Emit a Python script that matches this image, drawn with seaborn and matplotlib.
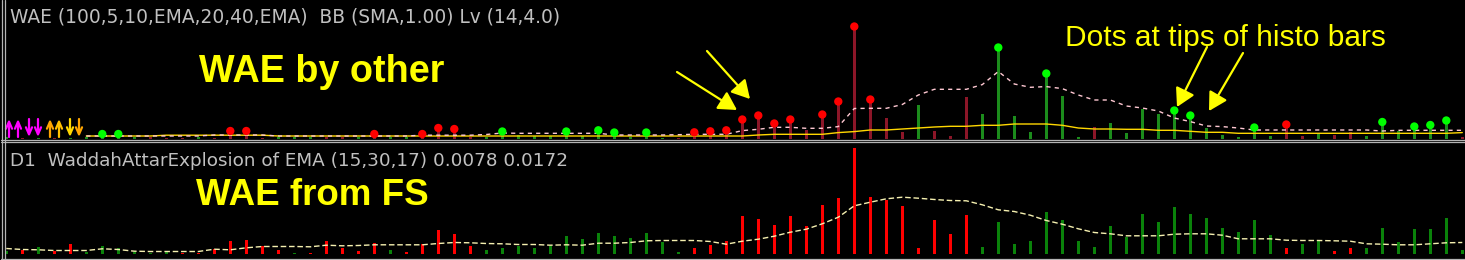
import numpy as np
import pandas as pd
import matplotlib
matplotlib.use("Agg")
import matplotlib.pyplot as plt
from matplotlib.lines import Line2D
import seaborn as sns

# ---------------- data ----------------
bar_index = list(range(-1, 91))

# upper panel: "WAE by other" histogram (height units), trend and dots
top_hist = [1.5, 0.8, 0.8, 0.8, 0.8, 1.5, 4.5, 4.5, 1.5, 1.5,
            1.0, 1.0, 1.5, 1.0, 7.5, 7.5, 1.0, 1.5, 1.5, 1.5,
            1.5, 1.5, 1.5, 4.5, 1.5, 1.5, 4.5, 10.5, 9.5, 1.5,
            1.5, 7.0, 3.5, 2.5, 2.5, 7.0, 2.5, 8.2, 6.0, 1.5,
            6.0, 1.0, 0.8, 6.2, 7.2, 8.2, 19, 23, 15, 19,
            9, 24, 37, 112, 39, 21, 6.5, 33.5, 8, 3,
            41.5, 24.5, 91, 22.5, 6.5, 65, 42.5, 2, 11.5, 15.5,
            5.5, 29.5, 25, 28, 23, 10.5, 3.5, 2, 11, 3,
            14, 3, 5, 4, 6.5, 3, 16.5, 7.5, 12, 13.5,
            18, 2]
top_trend = list("grgrgggggr" "rrgrrrrggg" "rrgrggrrrr" "gggggggggg"
                 "ggrrrrrrrr" "rrrrrrrgrr" "rgggggggrg" "gggggggggg"
                 "rrgrrggggg" "gr")
top_dot_bars = [5, 6, 13, 14, 22, 25, 26, 27, 30, 34, 36, 37, 39, 42, 43, 44,
                45, 46, 47, 48, 50, 51, 52, 53, 61, 64, 72, 73, 77, 79, 85,
                87, 88, 89]

line_index = list(range(4, 91))
top_deadzone = [2.5, 2.5, 2.5, 2.5, 2.5, 3.3, 3.3, 3.3, 3.3, 3.3,
                3.3, 3.3, 2.5, 2.5, 2.5, 2.5, 2.5, 2.5, 2.5, 2.5,
                2.5, 2.5, 2.5, 2.5, 2.5, 2.5, 2.5, 2.5, 2.5, 2.5,
                2.5, 2.5, 2.5, 2.5, 2.5, 2.5, 2.5, 2.5, 2.5, 2.5,
                2.5, 2.5, 3.5, 4.2, 4.2, 4.2, 4.2, 5.9, 6.9, 8.5,
                8.5, 9.5, 10.5, 11.5, 12.2, 12.2, 13.2, 13.2, 14.5, 14.5,
                14.5, 13.2, 10.5, 9.5, 9.5, 9.2, 9.2, 8.2, 8.2, 7.2,
                6.2, 6.2, 5.2, 5.2, 5.2, 5.2, 5.2, 5.2, 5.2, 5.2,
                5.2, 5.2, 5.2, 5.2, 5.2, 5.2, 5.9]
top_explosion = [2.5, 2.5, 2.5, 2.5, 2.5, 2.5, 2.5, 2.5, 3.5, 3.5,
                 3.5, 3.5, 2.5, 2.5, 2.5, 2.5, 2.5, 2.5, 2.5, 2.5,
                 2.5, 3.3, 3.3, 3.3, 3.3, 4.0, 5.5, 5.2, 5.2, 5.2,
                 5.2, 5.2, 5.2, 3.5, 3.5, 3.5, 3.5, 3.8, 4.2, 4.2,
                 4.2, 7.9, 9.2, 11.2, 11.2, 10.2, 10.2, 11.9, 30, 30.2,
                 30.2, 34, 43.5, 49.2, 49.2, 49.2, 53.9, 67, 54.5, 51.2,
                 51.9, 49.9, 43.5, 38.5, 38.5, 32.5, 30.5, 27.5, 20.5, 16.9,
                 12.5, 11.9, 10.5, 8.5, 8.5, 8.5, 8.5, 8.5, 8.5, 8.5,
                 8.5, 7.5, 8.2, 8.2, 8.2, 8.2, 8.2]

# lower panel: "WAE from FS"
bot_hist = [2.3, 4, 7, 2.7, 10, 1.3, 8, 6, 2, 1,
            3, 0.7, 0.7, 5, 12.3, 13.3, 8, 4, 0.7, 1,
            12.3, 5.3, 2.3, 11, 4, 1.3, 10, 23.3, 20, 7.3,
            3.3, 6, 8, 6, 7.3, 18, 15, 21, 18, 16,
            21, 12, 2, 6, 9, 13, 38, 35, 29, 38,
            28, 49, 56, 105.5, 57, 54, 48, 6, 34, 20,
            39, 7, 32, 10, 13, 42, 34, 13, 7, 28,
            17, 40, 32, 47, 40, 36, 26, 22, 34, 19,
            6, 10, 14, 3, 6, 6, 26, 12, 25, 25,
            36, 4]
bot_trend = list("grgrrggggg" "grrrrrrrgr" "rrrrgrrrrr" "gggggggggg"
                 "gggrrrrrrr" "rrrrrrrrrr" "rggggggggg" "gggggggggg"
                 "rggrrggggg" "gg")
bot_explosion = [5, 4, 3.7, 3, 3, 3, 4.7, 4, 2.3, 2,
                 2, 2, 2, 4.3, 3.7, 5.7, 7, 7, 7, 6.7,
                 8.3, 7.7, 8, 8.7, 8.7, 8.7, 8.7, 10, 11, 10.7,
                 10, 9.7, 9, 9, 8.3, 8.7, 8.3, 10.3, 10.3, 11,
                 12.7, 13, 13, 13, 12, 9.3, 12.3, 14.3, 17.3, 21.3,
                 24.3, 29.7, 36.3, 47.7, 51.3, 54.7, 56.3, 55.3, 54, 53,
                 52.7, 48.7, 43.7, 42, 38.3, 33, 29.3, 24.7, 21, 19.7,
                 17.7, 17.7, 17.7, 19.3, 19.7, 19.7, 18.3, 14.7, 14.7, 14.7,
                 13.3, 13, 13, 12.7, 12.3, 9.7, 9.3, 8.7, 8.7, 9.7,
                 10.7, 11]

# MT4 signal arrow objects at the left edge (direction, colour)
signal_dirs = ["up", "up", "down", "down", "up", "up", "down", "down"]
signal_colors = ["#ff00ff", "#ff00ff", "#ff00ff", "#ff00ff",
                 "#ffa500", "#ffc000", "#ffd700", "#ffa500"]

top_title = "WAE (100,5,10,EMA,20,40,EMA)  BB (SMA,1.00) Lv (14,4.0)"
bot_title = "D1  WaddahAttarExplosion of EMA (15,30,17) 0.0078 0.0172"
label_top = "WAE by other"
label_bot = "WAE from FS"
label_dots = "Dots at tips of histo bars"

# ---------------- layout helpers ----------------
W, H = 1465, 260
def fx(px):
    return px / W
def fy(py):
    return 1 - py / H

sns.set_theme(style="dark")
plt.rcParams["font.family"] = ["Liberation Sans", "DejaVu Sans"]

fig = plt.figure(figsize=(W / 100, H / 100), dpi=100, facecolor="black")

PX = 16.0            # pixels per bar
x0 = -(22.3 - 5) / PX
xlim = (x0, x0 + 1460 / PX)

ax_top = fig.add_axes([fx(5), fy(139), fx(1460), 139 / H])
ax_bot = fig.add_axes([fx(5), fy(258.5), fx(1460), 116 / H])

for ax in (ax_top, ax_bot):
    ax.set_facecolor("black")

GREEN_TOP = "#1c8c1c"
RED_TOP = "#8c1628"
GREEN_BOT = "#0a820a"
RED_BOT = "#ff0000"

# upper panel
df_top = pd.DataFrame({"bar": bar_index, "value": top_hist,
                       "trend": ["up" if t == "g" else "down" for t in top_trend]})
sns.barplot(data=df_top, x="bar", y="value", hue="trend",
            palette={"up": GREEN_TOP, "down": RED_TOP}, native_scale=True,
            width=0.2, dodge=False, saturation=1, legend=False,
            errorbar=None, linewidth=0, ax=ax_top)
sns.lineplot(x=line_index, y=top_deadzone, color="#ffd700", lw=1.0, ax=ax_top)
sns.lineplot(x=line_index, y=top_explosion, color="#ffc8d2", lw=1.0,
             linestyle=(0, (3, 3)), ax=ax_top)
df_dots = df_top[df_top["bar"].isin(top_dot_bars)]
sns.scatterplot(data=df_dots, x="bar", y="value", hue="trend",
                palette={"up": "#00ff00", "down": "#ff0000"}, s=36,
                linewidth=0, legend=False, ax=ax_top, zorder=5)
ax_top.set_xlim(*xlim)
ax_top.set_ylim(-0.5, 138.5)

# lower panel
df_bot = pd.DataFrame({"bar": bar_index, "value": bot_hist,
                       "trend": ["up" if t == "g" else "down" for t in bot_trend]})
sns.barplot(data=df_bot, x="bar", y="value", hue="trend",
            palette={"up": GREEN_BOT, "down": RED_BOT}, native_scale=True,
            width=0.2, dodge=False, saturation=1, legend=False,
            errorbar=None, linewidth=0, ax=ax_bot)
sns.lineplot(x=bar_index, y=bot_explosion, color="#f5f0b0", lw=1.0,
             linestyle=(0, (4, 2)), ax=ax_bot)
ax_bot.set_xlim(*xlim)
ax_bot.set_ylim(-5, 111)

for ax in (ax_top, ax_bot):
    ax.set_xticks([])
    ax.set_yticks([])
    ax.set_xlabel("")
    ax.set_ylabel("")
    ax.grid(False)
    for s in ax.spines.values():
        s.set_visible(False)

# frame lines
GRAY = "#b4b4b4"
def hline(py, x1=1, x2=W):
    fig.add_artist(Line2D([fx(x1), fx(x2)], [fy(py), fy(py)], color=GRAY, lw=0.9,
                          transform=fig.transFigure))
def vline(px, y1=0, y2=H):
    fig.add_artist(Line2D([fx(px), fx(px)], [fy(y1), fy(y2)], color=GRAY, lw=0.9,
                          transform=fig.transFigure))
hline(139.6)
hline(141.8)
hline(259.4)
vline(1.5)
vline(4.5)

# titles
fig.text(fx(10), fy(22.5), top_title, color="#c0c0c0", fontsize=13.4,
         va="baseline", family="DejaVu Sans")
fig.text(fx(10), fy(165.5), bot_title, color="#c0c0c0", fontsize=13.2,
         va="baseline", family="DejaVu Sans")

# annotations
fig.text(fx(199), fy(82), label_top, color="#ffff00", fontsize=27.2,
         fontweight="bold", va="baseline")
fig.text(fx(196), fy(205), label_bot, color="#ffff00", fontsize=26.5,
         fontweight="bold", va="baseline")
fig.text(fx(1065), fy(46), label_dots, color="#ffff00", fontsize=21.5,
         va="baseline")

arrows = [((677, 72), (737, 110)), ((707, 51), (750, 99)),
          ((1207, 47), (1177, 107)), ((1243, 53), (1209, 111))]
for (sx, sy), (ex, ey) in arrows:
    fig.add_artist(matplotlib.patches.FancyArrowPatch(
        (fx(sx), fy(sy)), (fx(ex), fy(ey)), transform=fig.transFigure,
        arrowstyle="-|>,head_length=0.5,head_width=0.28", mutation_scale=22,
        color="#ffff00", lw=1.6, shrinkA=0, shrinkB=0))

# MT4 signal arrow objects at the left of the upper panel
signal_x = [9, 18, 29, 38, 50, 59, 70, 79]
for px, d, col in zip(signal_x, signal_dirs, signal_colors):
    ya, yb = (137, 119) if d == "up" else (119, 137)
    fig.add_artist(matplotlib.patches.FancyArrowPatch(
        (fx(px), fy(ya)), (fx(px), fy(yb)), transform=fig.transFigure,
        arrowstyle="->,head_length=0.5,head_width=0.22", mutation_scale=10,
        color=col, lw=1.6, shrinkA=0, shrinkB=0))

fig.savefig("out.png", dpi=100, facecolor="black")
